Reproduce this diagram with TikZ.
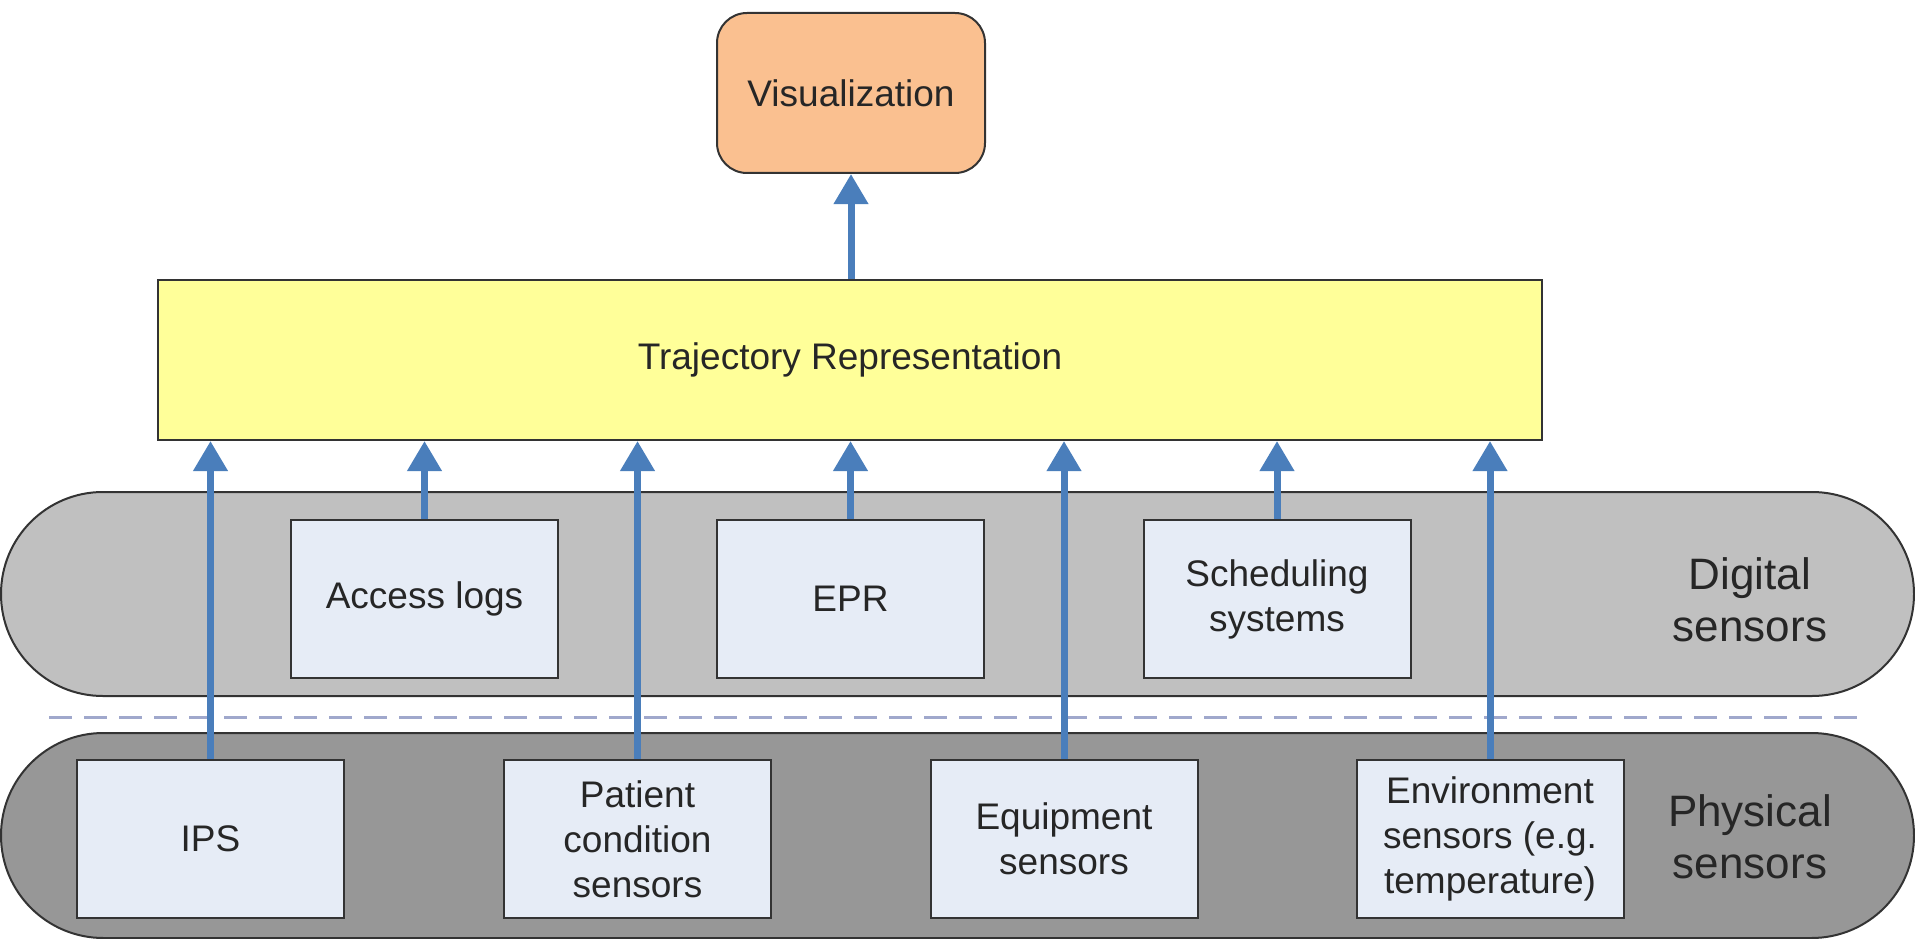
\documentclass[tikz,border=0pt]{standalone}
\usepackage{fontspec}
\setmainfont{Liberation Sans}
\usetikzlibrary{arrows.meta}
\definecolor{arrowblue}{HTML}{4A7EBB}
\definecolor{boxfill}{HTML}{E6ECF6}
\definecolor{boxborder}{HTML}{333333}
\definecolor{digitalfill}{HTML}{C0C0C0}
\definecolor{physfill}{HTML}{979797}
\definecolor{vizfill}{HTML}{FAC090}
\definecolor{trajfill}{HTML}{FFFF99}
\definecolor{dashcol}{HTML}{A0A8CC}
\definecolor{textdark}{HTML}{262626}
\begin{document}
\begin{tikzpicture}[x=1pt,y=-1pt,
  txt/.style={font=\fontsize{37}{45}\selectfont, text=textdark, align=center},
  sensorbox/.style={txt, draw=boxborder, line width=2pt, fill=boxfill, minimum width=267pt, minimum height=158pt, inner sep=0pt},
  flow/.style={draw=arrowblue, line width=7pt, -{Triangle[width=33pt,length=30pt]}},
  pill/.style={draw=boxborder, line width=2pt, minimum width=1913pt, inner sep=0pt},
  layerlabel/.style={font=\fontsize{44}{52}\selectfont, align=center, text=textdark}
]
\useasboundingbox (0,0) rectangle (1915,939);

% layers
\node[pill, fill=digitalfill, minimum height=204pt, rounded corners=101.9pt] (digital) at (957.5,594) {};
\node[pill, fill=physfill, minimum height=205pt, rounded corners=102.4pt] (physical) at (957.5,835.5) {};

\coordinate (dashL) at (49,717);
\coordinate (dashR) at (1865,717);
\draw[dashcol, line width=3pt, dash pattern=on 23pt off 12pt] (dashL) -- (dashR);

\node[layerlabel] (diglabel) at (1750,600) {Digital\\sensors};
\node[layerlabel] (physlabel) at (1750,837) {Physical\\sensors};

% top boxes
\node[txt, draw=boxborder, line width=2pt, fill=vizfill, rounded corners=30pt, minimum width=268pt, minimum height=160pt, inner sep=0pt] (viz) at (851,93) {Visualization};
\node[txt, draw=boxborder, line width=2pt, fill=trajfill, minimum width=1384pt, minimum height=160pt, inner sep=0pt] (traj) at (850,360) {Trajectory Representation};

% digital sensors
\node[sensorbox] (acc) at (424.5,599) {Access logs};
\node[sensorbox] (epr) at (850.5,599) {EPR};
\node[sensorbox] (sched) at (1277,599) {Scheduling\\systems};

% physical sensors
\node[sensorbox] (ips) at (210.5,839) {IPS};
\node[sensorbox] (patient) at (637.5,839) {Patient\\condition\\sensors};
\node[sensorbox] (equip) at (1064,839) {Equipment\\sensors};
\node[sensorbox] (env) at (1490,839) {Environment\\sensors (e.g.\\temperature)};

% connectors
\draw[flow] (ips.north) -- (ips.north |- traj.south);
\draw[flow] (acc.north) -- (acc.north |- traj.south);
\draw[flow] (patient.north) -- (patient.north |- traj.south);
\draw[flow] (epr.north) -- (epr.north |- traj.south);
\draw[flow] (equip.north) -- (equip.north |- traj.south);
\draw[flow] (sched.north) -- (sched.north |- traj.south);
\draw[flow] (env.north) -- (env.north |- traj.south);
\draw[flow] (traj.north -| viz.south) -- (viz.south);
\end{tikzpicture}
\end{document}
